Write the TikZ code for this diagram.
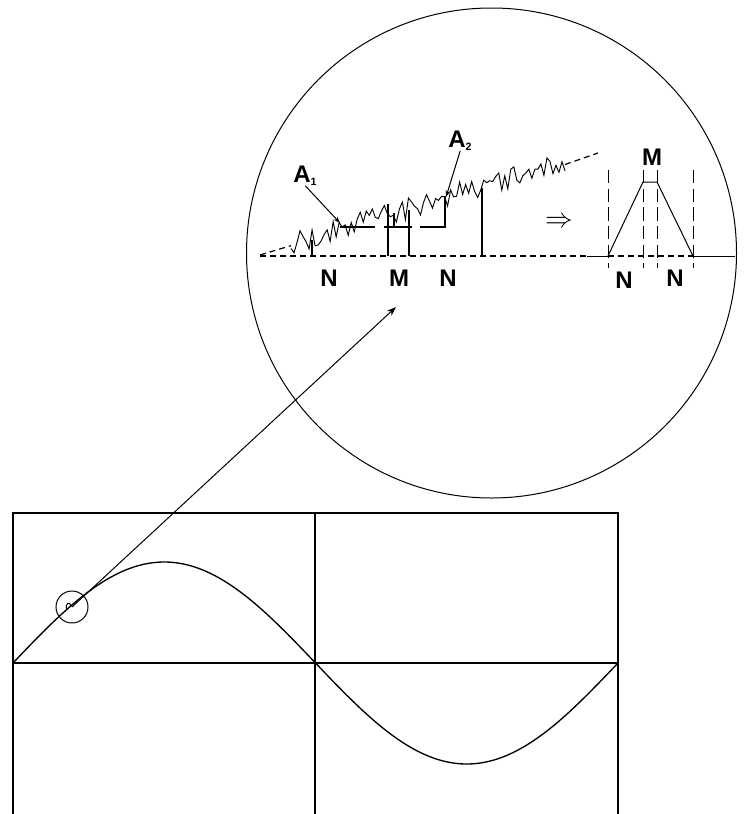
\documentclass[tikz,border=0pt]{standalone}
\usepackage{fontspec}
\setmainfont{Liberation Sans}
\usepackage{tikz}
\usetikzlibrary{arrows.meta}

\begin{document}
\begin{tikzpicture}[x=0.75pt, y=-0.75pt, >={Stealth[length=7pt,width=5pt]},
  frame/.style={line width=1.5pt},
  fine/.style={line width=0.75pt},
  bar/.style={line width=1.1pt},
  lbl/.style={font=\fontsize{18}{21}\selectfont\bfseries, inner sep=0pt},
  trend/.style={dash pattern=on 4.5pt off 3pt, line width=0.9pt},
  guide/.style={dash pattern=on 10pt off 4pt, line width=0.75pt}]

  \useasboundingbox (0,0) rectangle (744,814);

  % sine window
  \coordinate (o) at (13,663);
  \draw[frame] (13,814) -- (13,513) -- (618,513) -- (618,814);
  \draw[frame] (315,513) -- (315,814);
  \draw[frame] (o) -- (618,663);
  \draw[line width=1pt] plot[domain=0:605, samples=121, smooth] ({13+\x}, {663-101*sin(\x/605*360)});

  % zoomed spot on the curve
  \node[draw, circle, minimum size=24pt, inner sep=0pt, fine] (spot) at (72,607) {};
  \draw[fine] (67,610) .. controls (64,602) and (71,601) .. (71,607);

  % magnifier
  \node[draw, circle, minimum size=367.5pt, inner sep=0pt, fine] (lens) at (491.5,253) {};
  \coordinate (tip) at (396,307);
  \draw[->, fine] (spot.center) -- (tip);

  % baseline
  \draw[trend] (260,256) -- (587,256);
  \draw[fine] (587,256) -- (608,256);
  \draw[trend] (608,256) -- (693,256);
  \draw[fine] (693,256) -- (735,256);

  % noisy signal with its trend
  \draw[trend] (260,255) -- (291,245.6);
  \draw[trend] (565,164.5) -- (598,153);
  \pgfmathsetseed{12}
  \draw[line width=0.7pt] plot[domain=291:565, samples=92] (\x, {255-0.302*(\x-260)-2+11*rand});

  % steps
  \foreach \xx/\yy in {312/240, 388/204, 409/210, 482/188}
    \draw[bar] (\xx,256) -- (\xx,\yy);
  \draw[bar] (340,227) -- (375,227);
  \draw[bar] (384,227) -- (412,227);
  \draw[bar] (394,227) -- (394,213);
  \draw[bar] (420,227) -- (445,227) -- (445,196);

  % labels
  \node[lbl] (n1) at (329,278) {N};
  \node[lbl] (m1) at (399,278) {M};
  \node[lbl] (n2) at (448,278) {N};
  \node[lbl, anchor=base west] (a1) at (293,182) {A\textsubscript{\fontsize{8}{9}\selectfont 1}};
  \node[lbl, anchor=base west] (a2) at (448,147) {A\textsubscript{\fontsize{8}{9}\selectfont 2}};
  \coordinate (p1) at (340,223);
  \coordinate (p2) at (446,197);
  \draw[-{Stealth[length=5pt,width=3.5pt]}, fine] (a1.south) -- (p1);
  \draw[-{Stealth[length=5pt,width=3.5pt]}, fine] (a2.south) -- (p2);

  \node[font=\fontsize{22}{24}\selectfont, inner sep=0pt] (imp) at (559,222) {$\Rightarrow$};

  % trapezoid
  \draw[fine] (608,256) -- (643,182) -- (657,182) -- (693,256);
  \foreach \xx in {608,643,657,693}
    \draw[guide] (\xx,170) -- (\xx,268);
  \node[lbl] (m2) at (652,157) {M};
  \node[lbl] (n3) at (624,280) {N};
  \node[lbl] (n4) at (675,278) {N};
\end{tikzpicture}
\end{document}
